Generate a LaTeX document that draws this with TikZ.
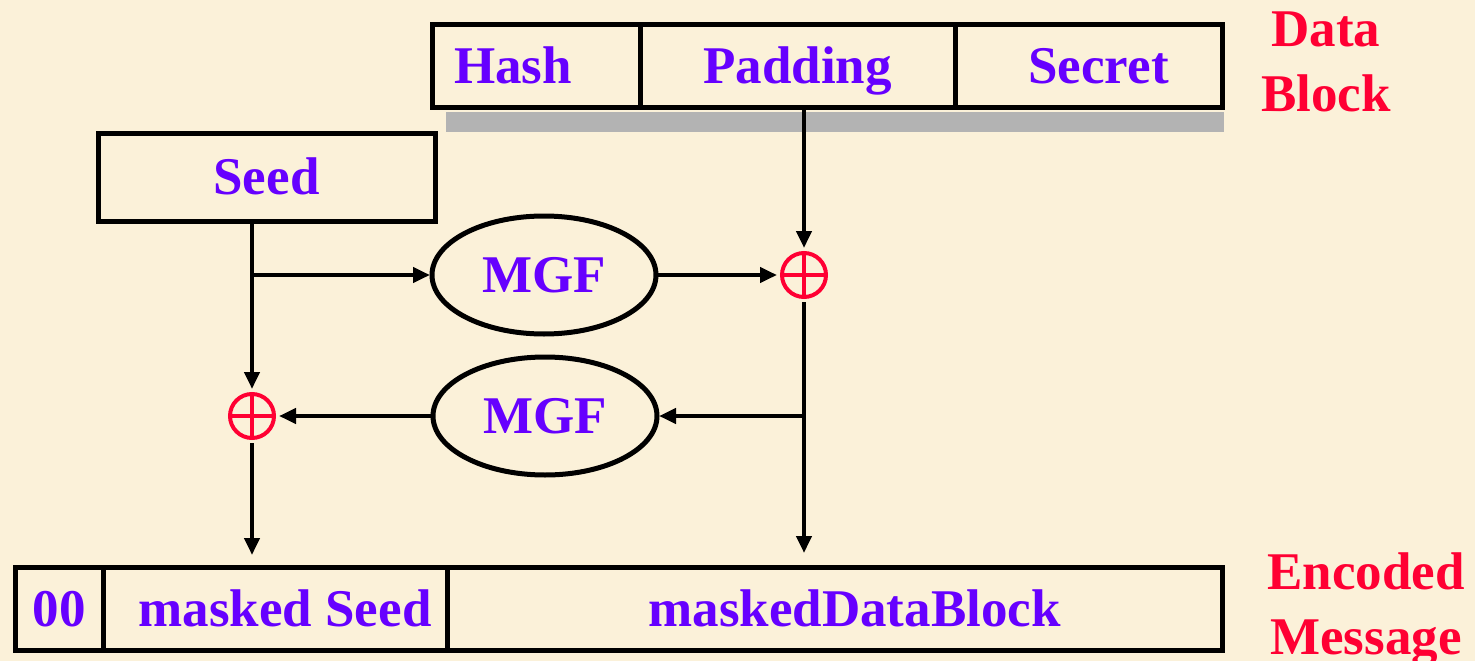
\documentclass[tikz,border=0pt]{standalone}
\usepackage{fontspec}
\setmainfont{Liberation Serif}
\usetikzlibrary{arrows.meta,positioning,shapes.geometric}

\definecolor{paper}{RGB}{251,241,217}
\definecolor{ink}{RGB}{102,0,255}
\definecolor{alert}{RGB}{255,0,51}
\definecolor{shadowgrey}{RGB}{179,179,179}

\begin{document}
\begin{tikzpicture}[->,>={Triangle[length=17pt,width=15pt]},line width=4.2pt,
                    x=1pt,y=-1pt,node distance=0pt,
                    every node/.style={font=\fontsize{53}{65}\selectfont\bfseries}]
  \tikzstyle{cell}=[draw,rectangle,line width=5pt,inner sep=0pt,outer sep=0pt,
                    text=ink,text height=35pt,text depth=0pt]
  \tikzstyle{mgf}=[draw,ellipse,line width=5pt,minimum width=224pt,minimum height=118pt,
                   inner sep=0pt,outer sep=2pt,text=ink,text height=35pt,text depth=0pt]
  \tikzstyle{xor}=[circle,draw=alert,line width=4pt,minimum size=44pt,inner sep=0pt,outer sep=5pt,
                   path picture={\draw[-,alert,line width=4pt]
                     (path picture bounding box.north) -- (path picture bounding box.south)
                     (path picture bounding box.west) -- (path picture bounding box.east);}]
  \tikzstyle{side}=[text=alert,align=center,anchor=north,inner sep=0pt]

  \useasboundingbox (0,0) rectangle (1475,661);
  \fill[paper] (0,0) rectangle (1475,661);

  % data block and its shadow
  \fill[shadowgrey] (446,112) rectangle (1224,132);
  \node[cell,minimum width=208pt,minimum height=82pt,anchor=west] (hash) at (432,66) {Hash\hspace*{46pt}};
  \node[cell,minimum width=315pt,minimum height=82pt,right=of hash] (padding) {Padding};
  \node[cell,minimum width=267pt,minimum height=82pt,right=of padding] (secret) {\hspace*{20pt}Secret};
  \node[side] (dblabel) at (1326,10) {Data\\Block};

  \node[cell,minimum width=337pt,minimum height=88pt] (seed) at (266.5,177) {Seed};

  \node[mgf] (mgf1) at (544,275) {MGF};
  \node[mgf] (mgf2) at (545,416) {MGF};
  \node[xor] (xor1) at (804,275) {};
  \node[xor] (xor2) at (252,416) {};

  % encoded message
  \node[cell,minimum width=88pt,minimum height=83pt,anchor=west] (zeros) at (15,608.5) {00};
  \node[cell,minimum width=344pt,minimum height=83pt,right=of zeros] (mseed) {\hspace*{20pt}masked Seed};
  \node[cell,minimum width=775pt,minimum height=83pt,right=of mseed] (mdb) {\hspace*{40pt}maskedDataBlock};
  \node[side] (emlabel) at (1366,551) {Encoded\\Message};

  % masking flow
  \draw (xor1 |- padding.south) -- (xor1);
  \draw (seed.south -| xor2) -- (xor2);
  \draw (xor2 |- mgf1) -- (mgf1);
  \draw (mgf1) -- (xor1);
  \draw[shorten >=14pt] (xor1) -- (xor1 |- mdb.north);
  \draw (xor1 |- mgf2) -- (mgf2);
  \draw (mgf2) -- (xor2);
  \draw[shorten >=12pt] (xor2) -- (xor2 |- mseed.north);
\end{tikzpicture}
\end{document}
